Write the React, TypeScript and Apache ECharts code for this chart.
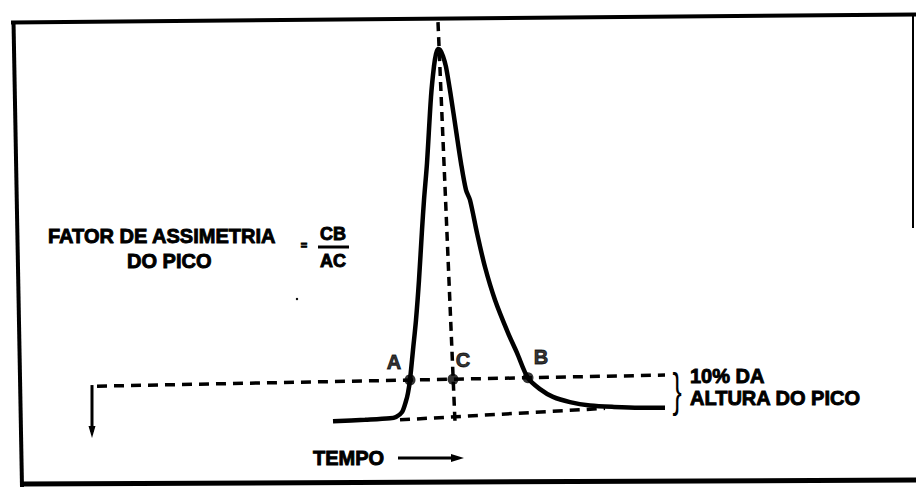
import React, { useEffect, useRef } from "react";
import * as echarts from "echarts";

// Peak profile (time units, signal in % of peak height)
const peakTime = [33.3, 36.5, 39.0, 39.6, 40.2, 40.6, 40.8, 41.0, 41.3, 41.6, 41.9, 42.2, 42.4, 42.7, 43.1, 43.4, 43.6, 43.8, 44.0, 44.3, 44.6, 45.1, 45.6, 46.1, 46.6, 47.0, 47.7, 48.5, 49.5, 50.8, 51.7, 52.8, 54.0, 55.3, 57.0, 59.0, 61.4, 64.0, 66.5];
const peakSignal = [-0.9, -0.5, -0.1, 0.3, 1.6, 4.6, 6.8, 10.3, 18.4, 26.5, 37.3, 50.8, 58.9, 68.9, 86.8, 95.1, 98.4, 99.7, 99.5, 97.8, 94.9, 86.8, 77.8, 68.9, 61.6, 58.9, 50.0, 40.8, 31.9, 23.0, 17.6, 10.8, 7.8, 5.7, 4.3, 3.4, 3.0, 2.8, 2.8];

// 10 % height line
const tenPctTime = [9.7, 66.5];
const tenPctSignal = [8.6, 11.6];
// extrapolated baseline under the peak
const baselineTime = [40.0, 60.5];
const baselineSignal = [-0.5, 2.6];
// perpendicular from the apex
const apexTime = [43.8, 45.5];
const apexSignal = [107.0, -1.1];
// small arrow at the left end of the 10 % line
const leftArrowTime = [9.2, 9.2];
const leftArrowSignal = [8.9, -3.8];
// marked points
const pointNames = ["A", "C", "B"];
const pointTime = [41.0, 45.3, 52.8];
const pointSignal = [10.3, 10.5, 10.9];

const FONT = "'Liberation Sans', Arial, 'DejaVu Sans', sans-serif";

export default function App() {
  const ref = useRef<HTMLDivElement>(null);
  useEffect(() => {
    if (!ref.current) return;
    const chart = echarts.init(ref.current, undefined, { renderer: "svg" });
    const zip = (a: number[], b: number[]) => a.map((v, i) => [v, b[i]]);
    const labelOffsets = [[-16, -18], [10, -19], [13, -21]];
    const txt = (text: string, x: number, y: number, size: number, align = "left") => ({
      type: "text",
      x,
      y,
      style: {
        text,
        fill: "#000",
        stroke: "#000",
        lineWidth: 0.9,
        fontFamily: FONT,
        fontWeight: "bold",
        fontSize: size,
        textAlign: align,
        align,
        textVerticalAlign: "middle",
        verticalAlign: "middle",
      },
    });
    const line = (x1: number, y1: number, x2: number, y2: number, w: number) => ({
      type: "line",
      shape: { x1, y1, x2, y2 },
      style: { stroke: "#000", lineWidth: w },
    });
    chart.setOption({
      animation: false,
      backgroundColor: "#fff",
      grid: { left: 0, right: 0, top: 0, bottom: 0 },
      xAxis: { type: "value", min: 0, max: 91.6, show: false },
      yAxis: { type: "value", min: -18.65, max: 112.97, show: false },
      series: [
        {
          type: "line",
          data: zip(tenPctTime, tenPctSignal),
          symbol: "none",
          lineStyle: { color: "#000", width: 3.5, type: [10, 7] },
        },
        {
          type: "line",
          data: zip(baselineTime, baselineSignal),
          symbol: "none",
          lineStyle: { color: "#000", width: 3.5, type: [10, 7] },
        },
        {
          type: "line",
          data: zip(apexTime, apexSignal),
          symbol: "none",
          lineStyle: { color: "#000", width: 3.5, type: [9, 6] },
        },
        {
          type: "line",
          data: [
            { value: [leftArrowTime[0], leftArrowSignal[0]], symbol: "none" },
            { value: [leftArrowTime[1], leftArrowSignal[1]], symbol: "triangle", symbolRotate: 180, symbolSize: [7, 12] },
          ],
          showSymbol: true,
          itemStyle: { color: "#000" },
          lineStyle: { color: "#000", width: 3 },
        },
        {
          type: "line",
          data: zip(peakTime, peakSignal),
          smooth: 0.3,
          symbol: "none",
          lineStyle: { color: "#000", width: 4.5 },
        },
        {
          type: "scatter",
          symbolSize: 11,
          itemStyle: { color: "#000" },
          data: pointNames.map((n, i) => ({
            name: n,
            value: [pointTime[i], pointSignal[i]],
            label: { offset: labelOffsets[i] },
          })),
          label: {
            show: true,
            position: "inside",
            formatter: "{b}",
            color: "#000",
            fontFamily: FONT,
            fontWeight: "bold",
            fontSize: 20,
            textBorderColor: "#000",
            textBorderWidth: 0.9,
          },
        },
      ],
      graphic: [
        line(13.5, 21, 22, 487, 4),
        line(11, 22.5, 916, 14.5, 4),
        line(913, 14, 913, 228, 2),
        line(22, 484, 916, 480, 5),
        txt("FATOR DE ASSIMETRIA", 48, 236, 20),
        txt("DO PICO", 127, 261, 20),
        txt("=", 304, 245, 11, "center"),
        txt("CB", 333, 234, 18, "center"),
        line(318, 247, 349, 247, 3),
        txt("AC", 333, 261, 18, "center"),
        txt("10% DA", 690, 376, 20),
        txt("ALTURA DO PICO", 690, 398, 20),
        txt("TEMPO", 313, 458, 20),
        line(398, 458, 455, 458, 3),
        { type: "polygon", shape: { points: [[451, 454], [464, 458], [451, 462]] }, style: { fill: "#000" } },
        {
          type: "text",
          x: 677,
          y: 390,
          scaleX: 0.6,
          style: {
            text: "}",
            fill: "#000",
            fontFamily: FONT,
            fontSize: 46,
            textAlign: "center",
            align: "center",
            textVerticalAlign: "middle",
            verticalAlign: "middle",
          },
        },
        { type: "circle", shape: { cx: 297, cy: 299, r: 1.2 }, style: { fill: "#000" } },
      ],
    });
    return () => chart.dispose();
  }, []);
  return (
    <div
      ref={ref}
      style={{ position: "absolute", left: 0, top: 0, width: 916, height: 487, background: "#fff" }}
    />
  );
}
